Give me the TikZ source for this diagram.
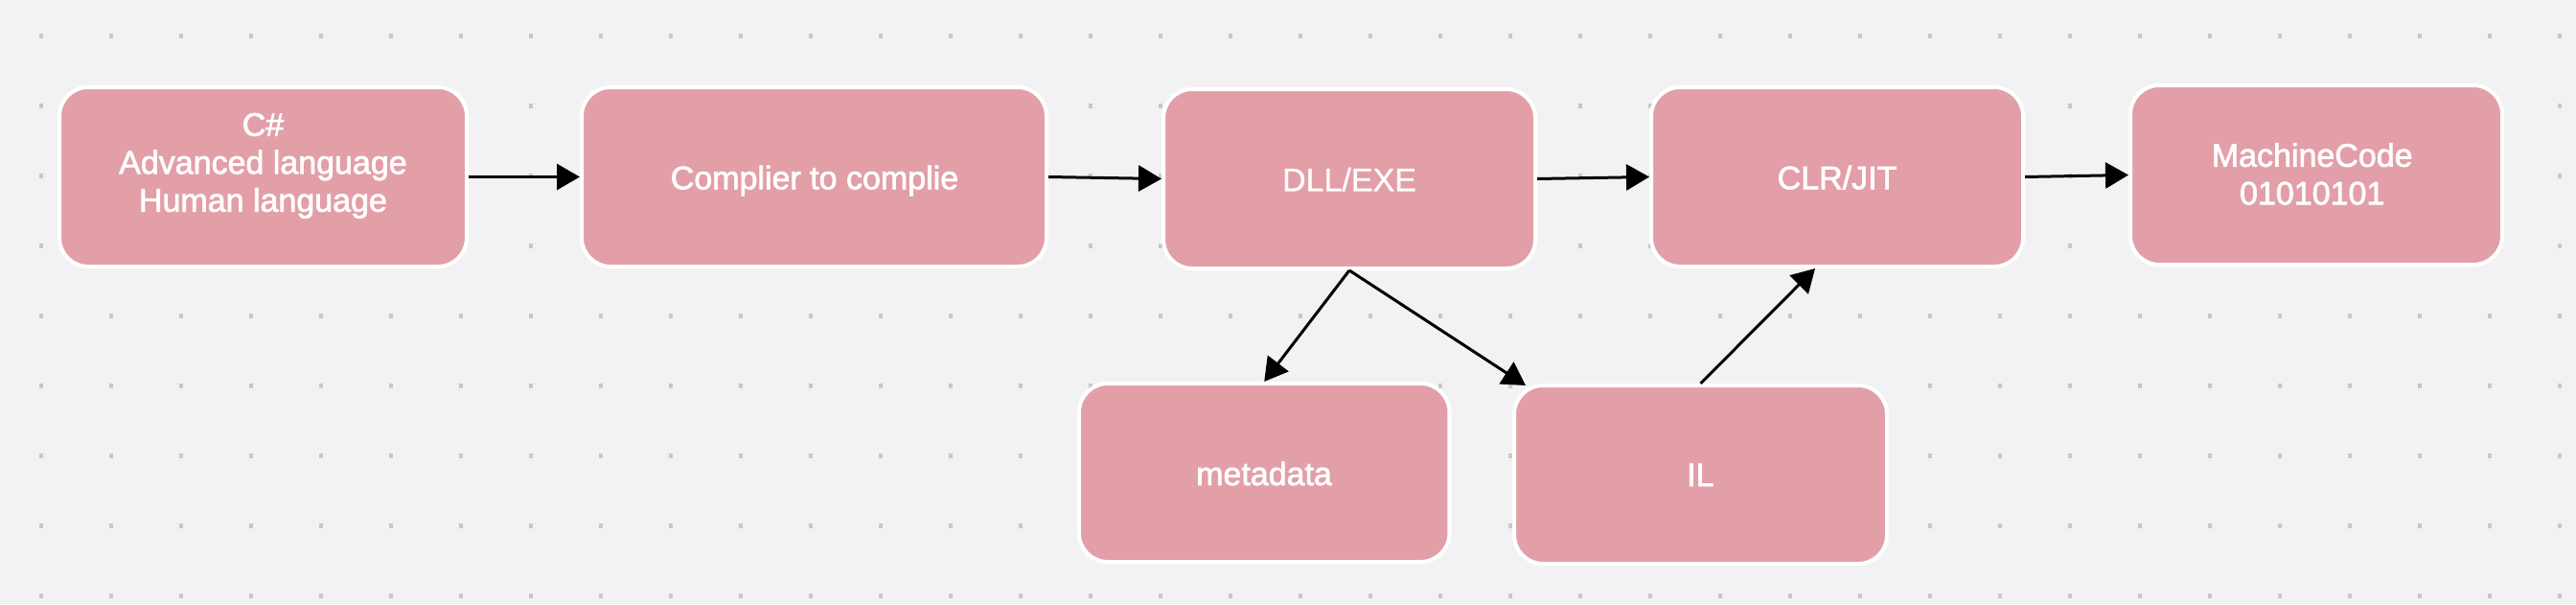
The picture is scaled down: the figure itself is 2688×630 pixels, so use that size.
\documentclass[tikz,border=0pt]{standalone}
\usepackage{fontspec}
\setmainfont{Liberation Sans}
\newfontfamily\medfont[FakeBold=2]{Liberation Sans}
\newfontfamily\regfont[FakeBold=0.8]{Liberation Sans}
\usetikzlibrary{arrows.meta,calc}
\definecolor{bgc}{RGB}{242,242,244}
\definecolor{dotc}{RGB}{200,200,203}
\definecolor{boxc}{RGB}{226,159,167}
\tikzset{
  pbox/.style={draw=white, line width=4pt, fill=boxc, rounded corners=30pt, inner sep=0pt, minimum width=#1},
  pbox/.default=388pt,
  txt/.style={text=white, inner sep=0pt, font=\medfont\fontsize{34}{39.5}\selectfont, align=center},
  txtreg/.style={text=white, inner sep=0pt, font=\regfont\fontsize{34}{39.5}\selectfont, align=center},
  conn/.style={draw=black, line width=3pt, -{Triangle[length=24pt,width=27pt]}}
}
\begin{document}
\begin{tikzpicture}[x=1pt,y=-1pt]
\useasboundingbox (0,0) rectangle (2688,630);
\fill[bgc] (0,0) rectangle (2688,630);
% dot grid
\foreach \i in {0,...,36}{
  \foreach \j in {0,...,8}{
    \fill[dotc] ({43+73*\i-2},{37.7+73*\j-2.5}) rectangle ++(4,5);
  }
}
% boxes (outer size incl. border)
\node[pbox=425pt, minimum height=187pt] (b1) at (274.5,184.5) {};
\node[pbox=485pt, minimum height=187pt] (b2) at (849.5,184.5) {};
\node[pbox=388pt, minimum height=187pt] (b3) at (1408,186.5) {};
\node[pbox=388pt, minimum height=187pt] (b4) at (1917,184.5) {};
\node[pbox=388pt, minimum height=187pt] (b5) at (2417,182.5) {};
\node[pbox=386.5pt, minimum height=186pt] (b6) at (1319.2,493) {};
\node[pbox=389pt, minimum height=186pt] (b7) at (1774.5,495) {};
% texts (base anchor = baseline of last line)
\node[txt, anchor=base] (t1) at (274.5,220.7) {C\#\\Advanced language\\Human language};
\node[txt, anchor=base] (t2) at (850,197.3) {Complier to complie};
\node[txtreg, anchor=base] (t3) at (1408,199.4) {DLL/EXE};
\node[txt, anchor=base] (t4) at (1917,197.3) {CLR/JIT};
\node[txt, anchor=base] (t5) at (2412.7,213.3) {MachineCode\\01010101};
\node[txt, anchor=base] (t6) at (1319,506) {metadata};
\node[txt, anchor=base] (t7) at (1774.3,507) {IL};
% connectors
\draw[conn] (b1.east) -- (b2.west);
\draw[conn] (b2.east) -- (b3.west);
\draw[conn] (b3.east) -- (b4.west);
\draw[conn] (b4.east) -- (b5.west);
\draw[conn] (b3.south) -- (b6.north);
\draw[conn] (b3.south) -- ($(b7.north west)+(14,2)$);
\draw[conn] (b7.north) -- ($(b4.south)+(-23,0)$);
\end{tikzpicture}
\end{document}
